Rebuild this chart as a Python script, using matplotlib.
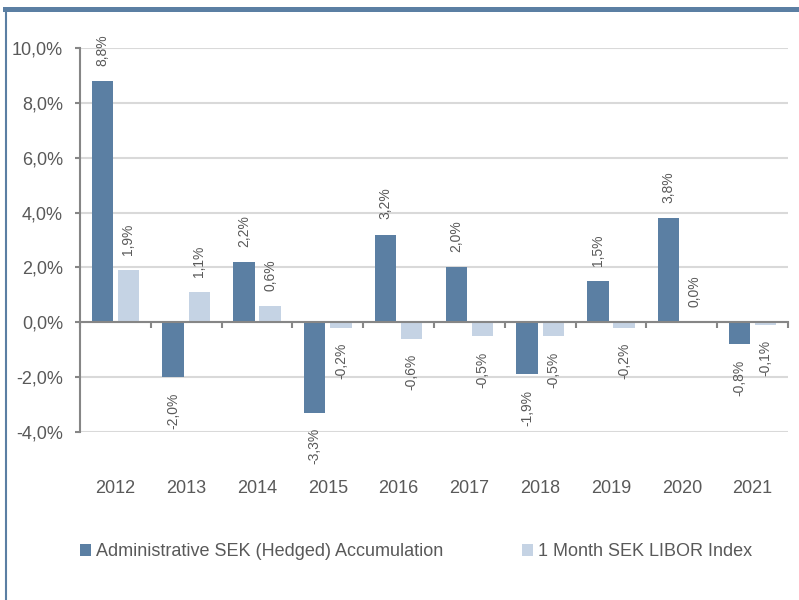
import numpy as np
import matplotlib
matplotlib.use("Agg")
import matplotlib.pyplot as plt
from matplotlib.lines import Line2D
import matplotlib.transforms as mtransforms

plt.rcParams['font.family'] = ['Liberation Sans', 'DejaVu Sans']

# Data (annual returns, %)
years = ['2012', '2013', '2014', '2015', '2016', '2017', '2018', '2019', '2020', '2021']
fund = [8.8, -2.0, 2.2, -3.3, 3.2, 2.0, -1.9, 1.5, 3.8, -0.8]
index = [1.9, 1.1, 0.6, -0.2, -0.6, -0.5, -0.5, -0.2, 0.0, -0.1]
series_names = ['Administrative SEK (Hedged) Accumulation', '1 Month SEK LIBOR Index']
yticks = [-4, -2, 0, 2, 4, 6, 8, 10]

dark = '#5B7FA3'
light = '#C5D3E4'
txt = '#595959'
axc = '#868686'

fig = plt.figure(figsize=(7.99, 6.0), dpi=100)
ax = fig.add_axes([80 / 799, 1 - 432 / 600, (788 - 80) / 799, (432 - 48) / 600])

x = np.arange(len(years)) + 0.5
w = 0.3
off = 0.185
b1 = ax.bar(x - off, fund, w, color=dark, label=series_names[0], zorder=3)
b2 = ax.bar(x + off, index, w, color=light, label=series_names[1], zorder=3)

def fmt(v):
    return ('%.1f%%' % v).replace('.', ',')

for bars, vals in ((b1, fund), (b2, index)):
    for r, v in zip(bars, vals):
        cx = r.get_x() + r.get_width() / 2
        if v >= 0:
            ax.annotate(fmt(v), (cx, v), xytext=(0, 11), textcoords='offset points',
                        rotation=90, ha='center', va='bottom', fontsize=10, color=txt)
        else:
            ax.annotate(fmt(v), (cx, v), xytext=(0, -11), textcoords='offset points',
                        rotation=90, ha='center', va='top', fontsize=10, color=txt)

ax.set_xlim(0, len(years))
ax.set_ylim(-4, 10)
ax.set_yticks(yticks)
ax.set_yticklabels([fmt(t) for t in yticks], fontsize=13, color=txt)
ax.yaxis.grid(True, color='#D9D9D9', linewidth=1.5, zorder=0)
ax.set_axisbelow(True)

ax.set_xticks(np.arange(len(years) + 1))
ax.set_xticklabels([])
ax.tick_params(axis='x', direction='out', length=4, width=1.5, color=axc)
ax.tick_params(axis='y', direction='out', length=3.6, width=1.5, color=axc, pad=8.6)

ax.spines['top'].set_visible(False)
ax.spines['right'].set_visible(False)
ax.spines['bottom'].set_position(('data', 0))
ax.spines['bottom'].set_color(axc)
ax.spines['bottom'].set_linewidth(1.5)
ax.spines['left'].set_color(axc)
ax.spines['left'].set_linewidth(1.5)
ax.spines['bottom'].set_zorder(4)

trans = mtransforms.blended_transform_factory(ax.transData, ax.transAxes)
for xi, yr in zip(x, years):
    ax.text(xi, -0.146, yr, transform=trans, ha='center', va='center', fontsize=13, color=txt)

leg = fig.legend(handles=[b1, b2], loc='center', bbox_to_anchor=(416 / 799, 1 - 552 / 600),
                 ncol=2, frameon=False, fontsize=13, handlelength=0.6, handleheight=0.6,
                 handletextpad=0.25, columnspacing=4.4, labelcolor=txt)

# frame lines (top and left)
fig.add_artist(Line2D([5 / 799, 1], [1 - 9 / 600, 1 - 9 / 600], color=dark, linewidth=3.6))
fig.add_artist(Line2D([6 / 799, 6 / 799], [1 - 9 / 600, 0], color=dark, linewidth=1.5))

fig.savefig('out.png', dpi=100)
